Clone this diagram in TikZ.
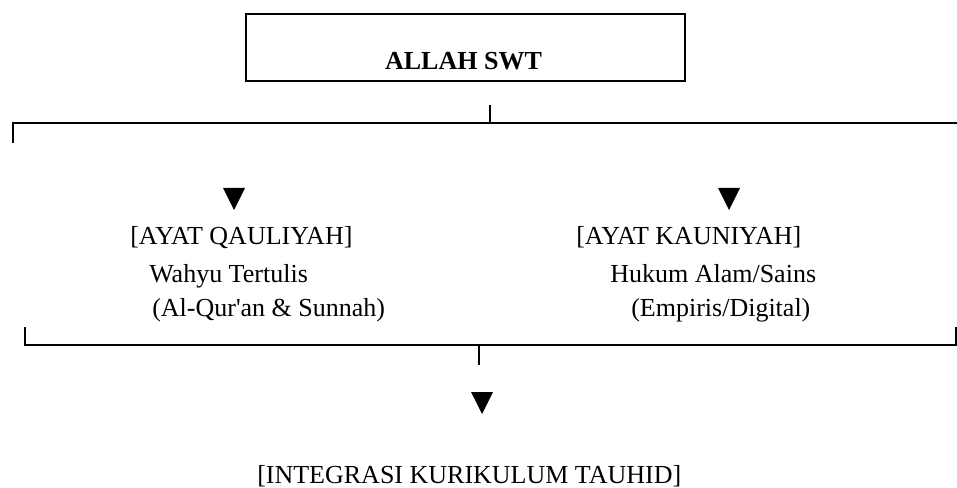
\documentclass[tikz,border=0pt]{standalone}
\usepackage{fontspec}
\setmainfont{Liberation Serif}
\usetikzlibrary{positioning}
\tikzset{
  wire/.style={line width=1.5pt},
  lbl/.style={font=\fontsize{19.5}{23}\selectfont, inner sep=0pt, anchor=base west},
  topbox/.style={draw, line width=1.5pt, minimum width=329.25pt, minimum height=50.25pt, inner sep=0pt},
  downmark/.pic={\fill (-11,0) -- (11,0) -- (0,22) -- cycle;}
}
\begin{document}
\begin{tikzpicture}[x=0.75pt,y=-0.75pt,line join=miter]
\useasboundingbox (0,0) rectangle (957,488);
% source box
\node[topbox] (allah) at (465.5,47.5) {};
\node[lbl,anchor=base] (allahtxt) at (463.5,70) {\textbf{ALLAH SWT}};
% upper bracket
\coordinate (ttick) at (490,105);
\coordinate (tleft) at (13,143);
\coordinate (tright) at (957,123);
\draw[wire] (tleft) |- (tright);
\draw[wire] (ttick) -- (ttick |- tright);
\pic at (234,188) {downmark};
\pic at (729,188) {downmark};
% the two kinds of ayat
\node[lbl] (qa) at (130,245) {[AYAT QAULIYAH]};
\node[lbl] (qb) at (149,283) {Wahyu Tertulis};
\node[lbl] (qc) at (152,317) {(Al-Qur\textquotesingle an \& Sunnah)};
\node[lbl] (ka) at (576,245) {[AYAT KAUNIYAH]};
\node[lbl] (kb) at (610,283) {Hukum Alam/Sains};
\node[lbl] (kc) at (631,317) {(Empiris/Digital)};
% lower bracket
\coordinate (bleft) at (25,327);
\coordinate (bright) at (956,327);
\coordinate (bjoin) at (479,345);
\coordinate (btick) at (479,365);
\draw[wire] (bleft) |- (bjoin) -| (bright);
\draw[wire] (bjoin) -- (btick);
\pic at (482,392) {downmark};
\node[lbl] (integ) at (257,483) {[INTEGRASI KURIKULUM TAUHID]};
\end{tikzpicture}
\end{document}
